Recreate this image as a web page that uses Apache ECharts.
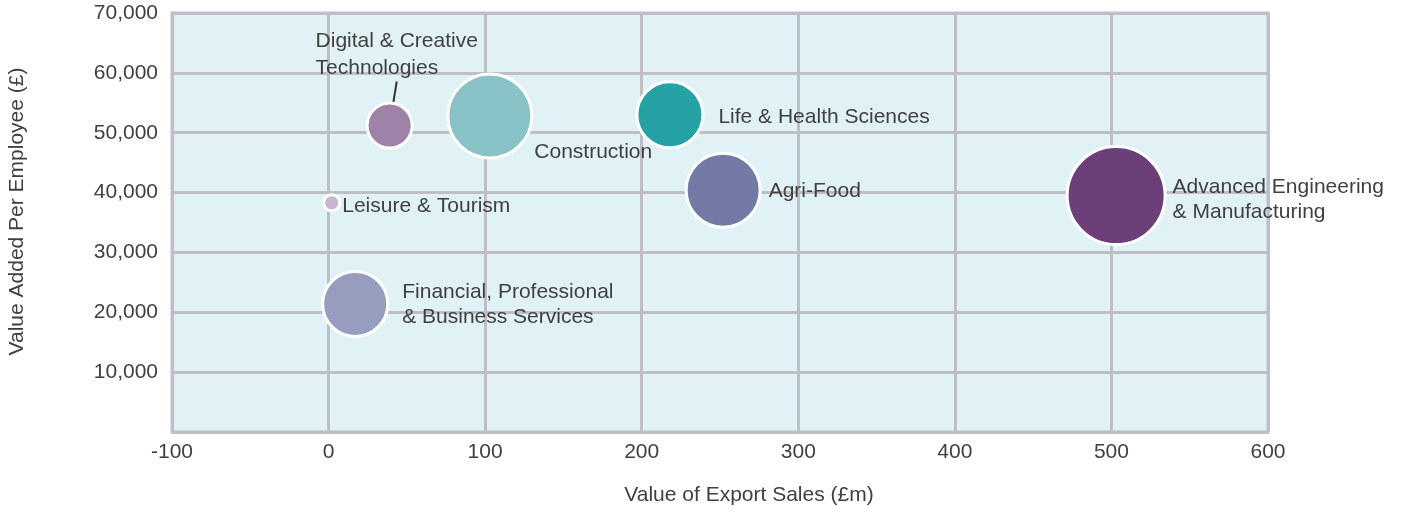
<!DOCTYPE html>
<html>
<head>
<meta charset="utf-8">
<title>Sectors bubble chart</title>
<script src="https://cdn.jsdelivr.net/npm/echarts@6/dist/echarts.min.js"></script>
<style>
  html, body { margin: 0; padding: 0; background: #fff; }
  #chart { width: 1405px; height: 513px; }
</style>
</head>
<body>
<div id="chart"></div>
<script>
// sector names, as shown in the labels
var sectors = [
    'Digital & Creative\nTechnologies',
    'Construction',
    'Leisure & Tourism',
    'Life & Health Sciences',
    'Agri-Food',
    'Advanced Engineering\n& Manufacturing',
    'Financial, Professional\n& Business Services'
];
// value of export sales (£m)
var exportSales = [39, 103, 2, 218, 252, 503, 17];
// value added per employee (£)
var valueAdded = [51200, 52800, 38300, 53000, 40400, 39500, 21400];
// bubble size (relative)
var bubbleSize = [2030, 7060, 260, 4360, 5480, 9600, 4230];

var colors = ['#9e82a8', '#8ac3c7', '#c8b5d0', '#26a2a5', '#727aa5', '#6d3f78', '#979dbf'];
// where each label sits relative to its bubble
var labelPos = [[-50, -74], [88, 80], 'right', 'right', 'right', 'right', 'right'];
var labelDist = [0, 0, 1, 14, 7, 6, 13];
var labelShift = [0, 0, 3, 2, 1, 4, 1];

var fontFamily = '"Liberation Sans", Arial, Helvetica, sans-serif';
var textColor = '#404040';
var lineColor = '#bfbec4';

var data = sectors.map(function(name, i) {
    var item = {
        name: name,
        value: [exportSales[i], valueAdded[i], bubbleSize[i]],
        itemStyle: {color: colors[i]},
        label: {
            show: true,
            formatter: name,
            align: 'left',
            position: labelPos[i],
            distance: labelDist[i],
            offset: [0, labelShift[i]]
        }
    };
    if (i === 1) item.label.verticalAlign = 'middle';
    if (i === 0) {
        item.label.lineHeight = 27;
        item.labelLine = {show: true, lineStyle: {color: '#333', width: 2}};
    }
    return item;
});

var chart = echarts.init(document.getElementById('chart'));
chart.setOption({
    animation: false,
    textStyle: {fontFamily: fontFamily},
    grid: {
        left: 172, top: 13, right: 137, bottom: 81,
        outerBoundsMode: 'none',
        containLabel: false,
        show: true,
        backgroundColor: '#e0f2f6',
        borderColor: lineColor,
        borderWidth: 3
    },
    xAxis: {
        type: 'value',
        min: -100, max: 600, interval: 100,
        axisLine: {show: false},
        axisTick: {show: false},
        splitLine: {lineStyle: {color: lineColor, width: 3}},
        axisLabel: {fontSize: 21, color: textColor, margin: 10, fontFamily: fontFamily},
        name: 'Value of Export Sales (£m)',
        nameLocation: 'middle',
        nameGap: 53,
        nameTextStyle: {fontSize: 21, color: textColor, fontFamily: fontFamily, padding: [0, 0, 0, 58]}
    },
    yAxis: {
        type: 'value',
        min: 0, max: 70000, interval: 10000,
        axisLine: {show: false},
        axisTick: {show: false},
        splitLine: {lineStyle: {color: lineColor, width: 3}},
        axisLabel: {
            fontSize: 21, color: textColor, margin: 14, fontFamily: fontFamily,
            padding: [4, 0, 0, 0],
            formatter: function(v) { return v === 0 ? '' : echarts.format.addCommas(v); }
        },
        name: 'Value Added Per Employee (£)',
        nameLocation: 'middle',
        nameGap: 144,
        nameTextStyle: {fontSize: 21, color: textColor, fontFamily: fontFamily, padding: [0, 0, 0, 22]}
    },
    series: [{
        type: 'scatter',
        symbolSize: function(val) { return Math.sqrt(val[2]); },
        itemStyle: {borderColor: '#fff', borderWidth: 3, opacity: 1},
        label: {fontSize: 21, color: textColor, lineHeight: 25, fontFamily: fontFamily},
        data: data
    }]
});
</script>
</body>
</html>
